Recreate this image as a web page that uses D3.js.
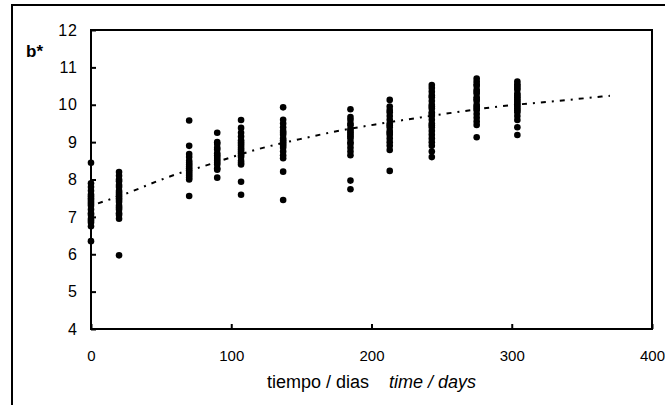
<!DOCTYPE html>
<html>
<head>
<meta charset="utf-8">
<script src="https://cdn.jsdelivr.net/npm/d3@7"></script>
<style>
    body { margin: 0; background: #fff; overflow: hidden; }
    svg { display: block; font-family: "Liberation Sans", Arial, sans-serif; }
</style>
</head>
<body>
<div id="chart"></div>
<script>

// sampling days
const days = [0, 20, 70, 90, 107, 137, 185, 213, 243, 275, 304];

// b* readings per sampling day
const bDay0   = [8.45, 7.9, 7.8, 7.7, 7.6, 7.55, 7.5, 7.45, 7.4, 7.35, 7.3, 7.2, 7.1, 7.05, 6.95, 6.9, 6.85, 6.75, 6.35];
const bDay20  = [8.2, 8.1, 8.0, 7.95, 7.85, 7.8, 7.7, 7.65, 7.6, 7.55, 7.5, 7.45, 7.4, 7.3, 7.25, 7.2, 7.1, 7.05, 6.95, 5.97];
const bDay70  = [9.58, 8.9, 8.68, 8.6, 8.5, 8.45, 8.4, 8.35, 8.3, 8.25, 8.2, 8.15, 8.1, 8.05, 8.0, 7.56];
const bDay90  = [9.25, 9.0, 8.95, 8.85, 8.8, 8.7, 8.65, 8.6, 8.55, 8.5, 8.45, 8.4, 8.3, 8.26, 8.05];
const bDay107 = [9.59, 9.38, 9.25, 9.15, 9.05, 9.0, 8.95, 8.9, 8.85, 8.8, 8.75, 8.7, 8.65, 8.6, 8.5, 8.45, 8.4, 7.94, 7.59];
const bDay137 = [9.93, 9.6, 9.5, 9.4, 9.3, 9.25, 9.2, 9.1, 9.05, 9.0, 8.95, 8.9, 8.85, 8.75, 8.65, 8.57, 8.21, 7.45];
const bDay185 = [9.88, 9.67, 9.6, 9.5, 9.45, 9.35, 9.3, 9.25, 9.2, 9.15, 9.1, 9.0, 8.95, 8.85, 8.75, 8.65, 7.97, 7.74];
const bDay213 = [10.13, 9.95, 9.86, 9.8, 9.7, 9.6, 9.5, 9.45, 9.4, 9.3, 9.25, 9.2, 9.1, 9.0, 8.9, 8.79, 8.23];
const bDay243 = [10.53, 10.45, 10.35, 10.25, 10.2, 10.1, 10.0, 9.95, 9.9, 9.8, 9.75, 9.7, 9.6, 9.5, 9.45, 9.4, 9.3, 9.2, 9.1, 9.0, 8.9, 8.75, 8.6];
const bDay275 = [10.7, 10.62, 10.55, 10.5, 10.4, 10.35, 10.3, 10.2, 10.15, 10.1, 10.0, 9.95, 9.9, 9.85, 9.75, 9.65, 9.55, 9.46, 9.13];
const bDay304 = [10.62, 10.55, 10.5, 10.45, 10.4, 10.3, 10.25, 10.2, 10.15, 10.1, 10.05, 10.0, 9.95, 9.9, 9.85, 9.8, 9.7, 9.59, 9.4, 9.19];

const bByDay = [bDay0, bDay20, bDay70, bDay90, bDay107, bDay137, bDay185, bDay213, bDay243, bDay275, bDay304];

// fitted trend line
const trendDays   = [5, 27, 49, 64, 78, 98, 117, 149, 175, 204, 235, 264, 290, 332, 370];
const trendValues = [7.36, 7.65, 7.98, 8.18, 8.33, 8.57, 8.79, 9.08, 9.29, 9.48, 9.66, 9.82, 9.95, 10.1, 10.24];

// axis ticks
const xTicks = [0, 100, 200, 300, 400];
const yTicks = [4, 5, 6, 7, 8, 9, 10, 11, 12];


class ColourChart {

    constructor(parentElement) {
        this.parentElement = parentElement;
        this.initVis();
    }

    initVis() {
        let vis = this;

        vis.margin = {top: 30, right: 13, bottom: 76, left: 91};
        vis.width = 665 - vis.margin.left - vis.margin.right;
        vis.height = 405 - vis.margin.top - vis.margin.bottom;

        vis.root = d3.select("#" + vis.parentElement).append("svg")
            .attr("width", 665)
            .attr("height", 405);

        // outer frame (right and bottom run off the page)
        vis.root.append("path")
            .attr("d", "M12,410 V5 H670")
            .attr("fill", "none")
            .attr("stroke", "#000")
            .attr("stroke-width", 2);

        vis.svg = vis.root.append("g")
            .attr("transform", `translate(${vis.margin.left},${vis.margin.top})`);

        vis.x = d3.scaleLinear().domain([0, 400]).range([0, vis.width]);
        vis.y = d3.scaleLinear().domain([4, 12]).range([vis.height, 0]);

        // axes, ticks pointing inward
        vis.xAxis = d3.axisBottom(vis.x).tickValues(xTicks).tickSizeInner(-5).tickSizeOuter(0).tickPadding(21);
        vis.yAxis = d3.axisLeft(vis.y).tickValues(yTicks).tickSizeInner(-5).tickSizeOuter(0).tickPadding(13);

        vis.svg.append("g")
            .attr("class", "x-axis")
            .attr("transform", `translate(0,${vis.height})`)
            .call(vis.xAxis);

        vis.svg.append("g")
            .attr("class", "y-axis")
            .call(vis.yAxis);

        vis.svg.selectAll(".domain").remove();
        vis.svg.selectAll(".tick line").attr("stroke", "#000").attr("stroke-width", 2);
        vis.svg.selectAll(".tick text")
            .attr("fill", "#000")
            .attr("font-family", '"Liberation Sans", Arial, sans-serif');
        vis.svg.selectAll(".x-axis .tick text").attr("font-size", 15);
        vis.svg.selectAll(".y-axis .tick text").attr("font-size", 16).attr("letter-spacing", 1);

        // plot box
        vis.svg.append("rect")
            .attr("width", vis.width)
            .attr("height", vis.height)
            .attr("fill", "none")
            .attr("stroke", "#000")
            .attr("stroke-width", 2);

        // labels
        vis.root.append("text")
            .attr("x", 26)
            .attr("y", 57)
            .attr("font-size", 17)
            .attr("font-weight", "bold")
            .text("b*");

        let xl = vis.root.append("text")
            .attr("x", vis.margin.left + vis.width / 2)
            .attr("y", 388)
            .attr("text-anchor", "middle")
            .attr("font-size", 18);
        xl.append("tspan").text("tiempo / dias");
        xl.append("tspan").attr("font-style", "italic").attr("dx", 20).text("time / days");

        this.wrangleData();
    }

    wrangleData() {
        let vis = this;

        vis.points = [];
        days.forEach((d, i) => {
            bByDay[i].forEach(v => vis.points.push({day: d, b: v}));
        });

        vis.trend = trendDays.map((d, i) => ({day: d, b: trendValues[i]}));

        vis.updateVis();
    }

    updateVis() {
        let vis = this;

        // trend line
        vis.line = d3.line()
            .x(d => vis.x(d.day))
            .y(d => vis.y(d.b))
            .curve(d3.curveMonotoneX);

        vis.svg.append("path")
            .datum(vis.trend)
            .attr("d", vis.line)
            .attr("fill", "none")
            .attr("stroke", "#000")
            .attr("stroke-width", 2)
            .attr("stroke-dasharray", "5,6,2,6");

        // observations
        vis.svg.selectAll(".obs")
            .data(vis.points)
            .enter()
            .append("circle")
            .attr("class", "obs")
            .attr("cx", d => vis.x(d.day))
            .attr("cy", d => vis.y(d.b))
            .attr("r", 3.3)
            .attr("fill", "#000");
    }
}

new ColourChart("chart");
</script>
</body>
</html>
